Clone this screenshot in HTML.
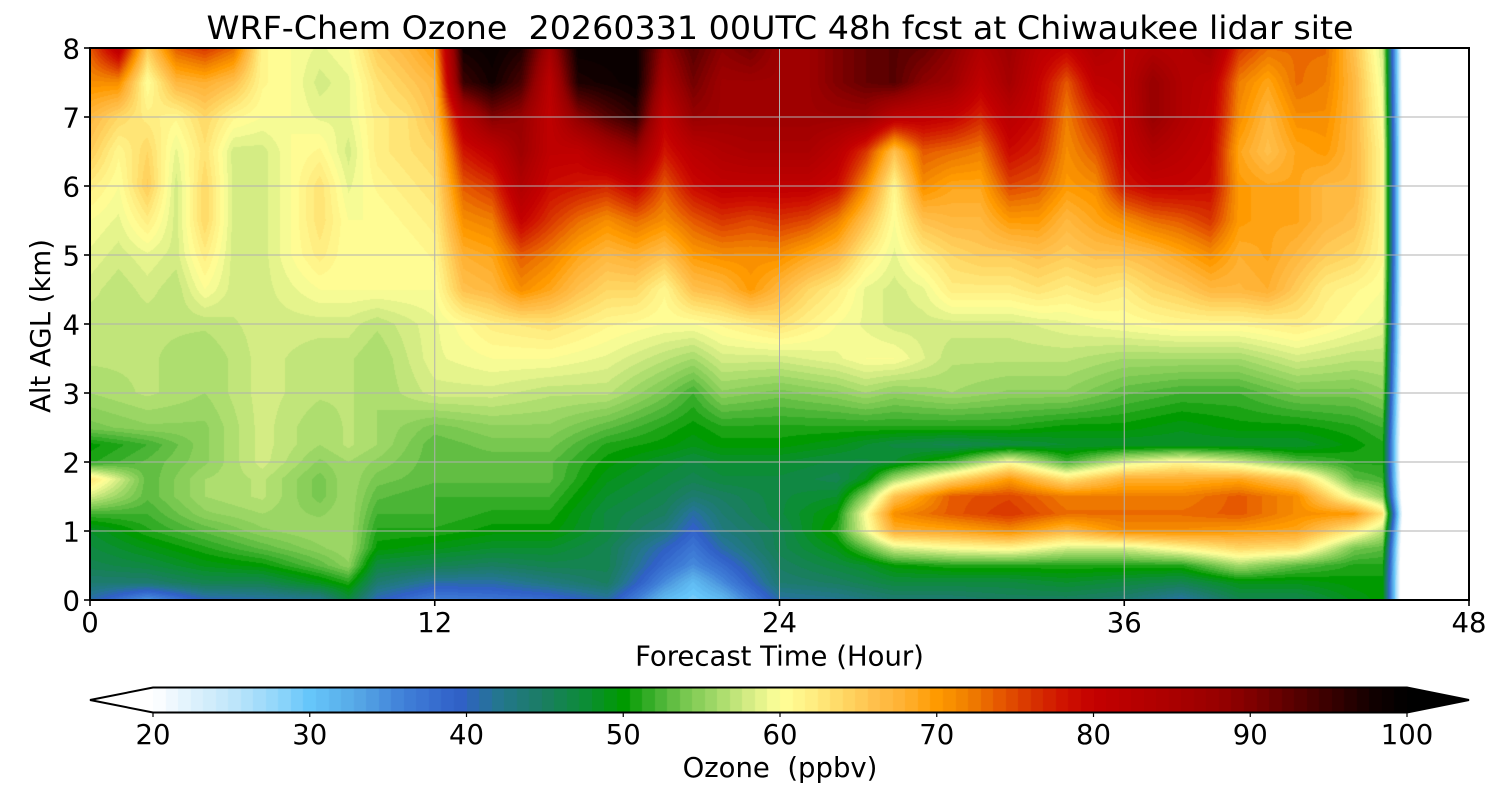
<!DOCTYPE html>
<html>
<head>
<meta charset="utf-8">
<style>
html,body{margin:0;padding:0;background:#fff;}
#wrap{position:relative;width:1500px;height:800px;overflow:hidden;background:#fff;}
canvas{position:absolute;display:block;}
#c{left:90px;top:48px;}
#cb{left:153px;top:688px;}
svg{position:absolute;left:0;top:0;}
text{font-family:"DejaVu Sans","Liberation Sans",sans-serif;fill:#000;}
</style>
</head>
<body>
<div id="wrap">
<canvas id="c" width="1379" height="552"></canvas>
<canvas id="cb" width="1254" height="24"></canvas>
<svg width="1500" height="800" viewBox="0 0 1500 800" xmlns="http://www.w3.org/2000/svg">
  <g stroke="#b0b0b0" stroke-width="1">
    <line x1="434.75" y1="48" x2="434.75" y2="600"/>
    <line x1="779.5" y1="48" x2="779.5" y2="600"/>
    <line x1="1124.25" y1="48" x2="1124.25" y2="600"/>
    <line x1="90" y1="531" x2="1469" y2="531"/>
    <line x1="90" y1="462" x2="1469" y2="462"/>
    <line x1="90" y1="393" x2="1469" y2="393"/>
    <line x1="90" y1="324" x2="1469" y2="324"/>
    <line x1="90" y1="255" x2="1469" y2="255"/>
    <line x1="90" y1="186" x2="1469" y2="186"/>
    <line x1="90" y1="117" x2="1469" y2="117"/>
  </g>
  <rect x="90" y="48" width="1379" height="552" fill="none" stroke="#000" stroke-width="2"/>
  <g stroke="#000" stroke-width="1.6">
    <line x1="84" y1="600" x2="90" y2="600"/>
    <line x1="84" y1="531" x2="90" y2="531"/>
    <line x1="84" y1="462" x2="90" y2="462"/>
    <line x1="84" y1="393" x2="90" y2="393"/>
    <line x1="84" y1="324" x2="90" y2="324"/>
    <line x1="84" y1="255" x2="90" y2="255"/>
    <line x1="84" y1="186" x2="90" y2="186"/>
    <line x1="84" y1="117" x2="90" y2="117"/>
    <line x1="84" y1="48" x2="90" y2="48"/>
    <line x1="90" y1="600" x2="90" y2="606"/>
    <line x1="434.75" y1="600" x2="434.75" y2="606"/>
    <line x1="779.5" y1="600" x2="779.5" y2="606"/>
    <line x1="1124.25" y1="600" x2="1124.25" y2="606"/>
    <line x1="1469" y1="600" x2="1469" y2="606"/>
  </g>
  <g font-size="27.5" text-anchor="end">
    <text x="80" y="610.5">0</text>
    <text x="80" y="541.5">1</text>
    <text x="80" y="472.5">2</text>
    <text x="80" y="403.5">3</text>
    <text x="80" y="334.5">4</text>
    <text x="80" y="265.5">5</text>
    <text x="80" y="196.5">6</text>
    <text x="80" y="127.5">7</text>
    <text x="80" y="58.5">8</text>
  </g>
  <g font-size="27.5" text-anchor="middle">
    <text x="90" y="632">0</text>
    <text x="434.75" y="632">12</text>
    <text x="779.5" y="632">24</text>
    <text x="1124.25" y="632">36</text>
    <text x="1469" y="632">48</text>
  </g>
  <text x="779.5" y="665.5" font-size="27.5" text-anchor="middle">Forecast Time (Hour)</text>
  <text transform="translate(50,326) rotate(-90)" x="0" y="0" font-size="27.5" text-anchor="middle">Alt AGL (km)</text>
  <text x="780" y="39" font-size="32" text-anchor="middle" textLength="1147" lengthAdjust="spacingAndGlyphs" xml:space="preserve">WRF-Chem Ozone  20260331 00UTC 48h fcst at Chiwaukee lidar site</text>
  <polygon points="153,687.5 90,700 153,712.5" fill="#ffffff"/>
  <polygon points="1407,687.5 1469,700 1407,712.5" fill="#000000"/>
  <polygon points="90,700 153,687.5 1407,687.5 1469,700 1407,712.5 153,712.5" fill="none" stroke="#000" stroke-width="2"/>
  <g stroke="#000" stroke-width="1.2">
    <line x1="153" y1="712.5" x2="153" y2="717"/>
    <line x1="309.75" y1="712.5" x2="309.75" y2="717"/>
    <line x1="466.5" y1="712.5" x2="466.5" y2="717"/>
    <line x1="623.25" y1="712.5" x2="623.25" y2="717"/>
    <line x1="780" y1="712.5" x2="780" y2="717"/>
    <line x1="936.75" y1="712.5" x2="936.75" y2="717"/>
    <line x1="1093.5" y1="712.5" x2="1093.5" y2="717"/>
    <line x1="1250.25" y1="712.5" x2="1250.25" y2="717"/>
    <line x1="1407" y1="712.5" x2="1407" y2="717"/>
  </g>
  <g font-size="27.5" text-anchor="middle">
    <text x="153" y="744">20</text>
    <text x="309.75" y="744">30</text>
    <text x="466.5" y="744">40</text>
    <text x="623.25" y="744">50</text>
    <text x="780" y="744">60</text>
    <text x="936.75" y="744">70</text>
    <text x="1093.5" y="744">80</text>
    <text x="1250.25" y="744">90</text>
    <text x="1407" y="744">100</text>
  </g>
  <text x="780" y="777" font-size="27.5" text-anchor="middle" xml:space="preserve">Ozone  (ppbv)</text>
</svg>
</div>
<script>
(function(){
var stops=[[20,'#ffffff'],[22,'#e4f4fd'],[25,'#c0e6fa'],[28,'#90d6fa'],[30,'#66c6fa'],[33,'#56a8e6'],[36,'#4080d8'],[39.5,'#3060c8'],[42,'#247690'],[45,'#1a7e60'],[47.5,'#0c8c38'],[50,'#009a00'],[52,'#40b030'],[54,'#78c850'],[56,'#a4da6a'],[58,'#d4ec84'],[60,'#ffff99'],[62,'#ffee82'],[64,'#ffd864'],[66,'#ffc04c'],[68,'#ffb030'],[70,'#ff9a00'],[72,'#f08000'],[74,'#e65800'],[76,'#d83400'],[78,'#d01400'],[80,'#c40000'],[84,'#b00000'],[88,'#980000'],[90,'#800000'],[94,'#480000'],[98,'#100000'],[100,'#000000']];
function hx(s){return [parseInt(s.substr(1,2),16),parseInt(s.substr(3,2),16),parseInt(s.substr(5,2),16)];}
var S=stops.map(function(s){return [s[0],hx(s[1])];});
function cmap(v){
  if(v<=S[0][0])return S[0][1];
  for(var i=0;i<S.length-1;i++){
    if(v<=S[i+1][0]){var t=(v-S[i][0])/(S[i+1][0]-S[i][0]);var a=S[i][1],b=S[i+1][1];
      return [Math.round(a[0]+(b[0]-a[0])*t),Math.round(a[1]+(b[1]-a[1])*t),Math.round(a[2]+(b[2]-a[2])*t)];}
  }
  return S[S.length-1][1];
}
var NB=100,STEP=0.8,bands=[];
for(var k=0;k<NB;k++){bands.push(cmap(20+(k+0.5)*STEP));}
function col(v){
  if(v<20)return [255,255,255];
  if(v>=100)return [0,0,0];
  var k=Math.floor((v-20)/STEP);if(k>NB-1)k=NB-1;return bands[k];
}
var rows=[0,.25,.5,.75,1,1.25,1.5,1.75,2,2.25,2.5,3,3.5,4,4.5,5,5.5,6,6.5,7,7.5,8];
var B={
0:[41,44,46,47,48,52,58,63,51,50,54,56,57,57],
2:[34,44,47,49,51,52,53,53,53,52,55,57,57,57],
4:[40,46,49,51,53,55,56,56,55,55,55,56,56,57],
6:[41,46,50,53,55,56,57,57,58,58,58,58,58,58],
8:[42,49,53,55,56,55,54,54,55,56,56,57,57,58],
9:[47,51,55,56,56,56,56,56,56,57,57,57,57,58],
10:[40,44,47,50,51,52,53,54,55,56,56,56,56,57],
12:[36,41,46,49,51,52,52,53,53,53,54,58,59,59],
14:[37,41,45,48,50,51,52,53,53,54,55,58,60,62],
16:[38,43,46,48,50,51,52,53,53,54,55,57,60,63],
18:[41,45,46,46,47,47,48,49,50,51,53,57,59,61],
20:[31,35,38,40,43,45,46,47,48,50,51,54,57,60],
21:[29,31,35,37,39,41,44,46,47,49,50,52,56,60],
22:[31,35,38,41,43,44,45,47,48,50,51,55,58,61],
24:[41,44,45,46,46,47,47,47,48,50,51,54,58,63],
26:[42,45,47,49,51,50,48,46,47,49,51,55,59,60],
27:[43,46,48,53,59,60,55,49,47,48,51,56,60,59],
28:[44,47,50,58,68,71,66,56,48,47,51,55,60,58],
30:[44,47,51,60,69,74,74,64,52,46,51,56,57,58],
32:[45,47,51,61,71,76,75,70,60,47,51,55,57,58],
34:[45,48,51,58,67,73,72,63,52,48,50,55,57,59],
36:[44,47,51,58,71,73,72,68,58,48,50,53,56,60],
38:[41,46,51,61,71,73,72,68,61,48,49,52,56,61],
40:[46,49,56,64,70,74,74,69,58,48,50,52,56,61],
42:[46,49,53,63,69,71,71,65,53,48,50,54,58,62],
44:[49,50,51,54,62,70,59,53,51,50,51,54,57,60],
45:[50,50,51,53,57,63,55,52,51,51,52,55,57,59]
};
var T=[
[58,59,60,62,65,67,71,74],
[57,58,59,60,61,64,71,82],
[58,59,62,65,64,62,60,65],
[57,58,58,58,59,61,67,74],
[60,62,64,64,63,64,68,76],
[58,58,58,58,58,61,66,73],
[58,58,58,58,58,60,61,61],
[59,60,60,60,60,60,60,60],
[60,62,63,63,61,59,58,59],
[60,60,60,59,58,59,59,60],
[60,60,60,61,62,62,63,65],
[60,60,61,62,63,63,65,67],
[60,61,62,63,64,66,67,70],
[66,68,71,74,78,83,95,98],
[67,69,72,76,81,90,98,99],
[71,74,80,84,87,88,94,97],
[69,72,76,79,81,81,82,86],
[66,69,73,78,81,89,97,99],
[64,67,71,77,85,93,98,99],
[64,68,73,80,88,96,99,99],
[61,66,71,74,78,81,85,88],
[66,70,74,79,82,88,91,93],
[67,71,76,81,84,87,87,89],
[70,71,75,81,85,87,87,91],
[67,71,76,81,85,87,87,87],
[64,69,75,81,85,87,87,87],
[62,67,72,79,82,87,90,90],
[59,62,66,71,76,87,92,92],
[58,59,60,61,66,82,93,93],
[59,62,66,71,74,81,89,92],
[62,64,67,69,73,80,87,89],
[62,65,67,69,72,77,81,84],
[62,65,70,75,79,82,86,87],
[63,66,70,74,77,79,80,82],
[62,65,67,70,71,72,74,80],
[63,66,69,71,74,77,81,84],
[62,66,71,78,80,81,82,82],
[64,67,73,80,84,88,88,84],
[65,69,74,80,82,84,84,83],
[67,71,76,79,80,81,82,86],
[67,68,70,70,69,71,72,76],
[68,69,69,69,66,67,69,73],
[65,67,69,69,69,71,73,73],
[62,65,67,67,70,71,72,73],
[61,64,66,67,67,67,67,66],
[60,61,61,61,61,60,59,58]
];
var keys=Object.keys(B).map(Number).sort(function(a,b){return a-b;});
var G=[];
for(var h=0;h<=48;h++){
  var c=[];
  if(h>45){for(var r=0;r<rows.length;r++)c.push(0);G.push(c);continue;}
  var bot;
  if(B[h])bot=B[h];else{
    var lo=keys[0],hi=keys[keys.length-1];
    for(var q=0;q<keys.length;q++){if(keys[q]<h)lo=keys[q];if(keys[q]>h){hi=keys[q];break;}}
    var t=(h-lo)/(hi-lo);bot=[];
    for(var r=0;r<14;r++)bot.push(B[lo][r]*(1-t)+B[hi][r]*t);
  }
  c=bot.slice();for(var r=0;r<8;r++)c.push(T[h][r]);
  G.push(c);
}
var cv=document.getElementById('c'),ctx=cv.getContext('2d');
var W=cv.width,H=cv.height,img=ctx.createImageData(W,H),d=img.data;
var RJ=[],RG=[];
for(var y=0;y<H;y++){
  var km=8-(y+0.5)*8/H,j=0;
  while(j<rows.length-2&&km>rows[j+1])j++;
  RJ.push(j);RG.push((km-rows[j])/(rows[j+1]-rows[j]));
}
for(var x=0;x<W;x++){
  var hr=(x+0.5)*48/W,i=Math.floor(hr);if(i>47)i=47;var f=hr-i;
  var A=G[i],Bc=G[i+1];
  for(var y=0;y<H;y++){
    var j=RJ[y],g=RG[y];
    var v=(1-f)*((1-g)*A[j]+g*A[j+1])+f*((1-g)*Bc[j]+g*Bc[j+1]);
    var cc=col(v),p=(y*W+x)*4;
    d[p]=cc[0];d[p+1]=cc[1];d[p+2]=cc[2];d[p+3]=255;
  }
}
ctx.putImageData(img,0,0);
var cb=document.getElementById('cb'),cx=cb.getContext('2d');
var CW=cb.width,CH=cb.height;
for(var k=0;k<NB;k++){
  var x0=Math.round(k*CW/NB),x1=Math.round((k+1)*CW/NB);
  var c2=bands[k];cx.fillStyle='rgb('+c2[0]+','+c2[1]+','+c2[2]+')';
  cx.fillRect(x0,0,x1-x0,CH);
}
})();
</script>
</body>
</html>
